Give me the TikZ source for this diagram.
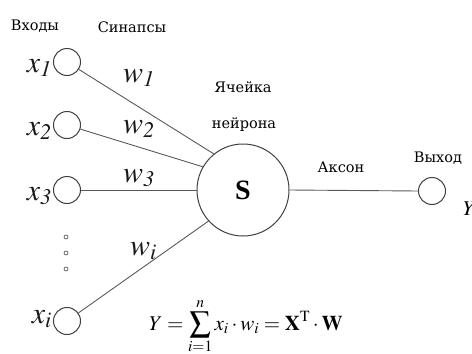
\documentclass[tikz,border=0pt]{standalone}
\usepackage{mathptmx}
\usepackage[no-math]{fontspec}
\setmainfont{DejaVu Serif}
\begin{document}
\begin{tikzpicture}[x=1pt,y=-1pt,
  neuron/.style={circle,draw=black!75,line width=1pt,minimum size=27pt,inner sep=0pt},
  soma/.style={circle,draw=black!75,line width=1pt,minimum size=92pt,inner sep=0pt,font=\fontsize{28}{30}\selectfont\bfseries},
  link/.style={draw=black!65,line width=0.9pt},
  lbl/.style={font=\fontsize{14.5}{17}\selectfont,inner sep=0pt,text=black},
  mlbl/.style={font=\fontsize{30}{32}\selectfont,inner sep=0pt,text=black!90},
  flbl/.style={font=\fontsize{21}{24}\selectfont,inner sep=0pt,text=black},
  dotc/.style={circle,draw=black!60,line width=0.8pt,minimum size=4pt,inner sep=0pt}]
\useasboundingbox (0,0) rectangle (472,354);
% input neurons
\node[neuron] (x1) at (67,62) {};
\node[neuron] (x2) at (67,125) {};
\node[neuron] (x3) at (67,190) {};
\node[neuron] (xi) at (67,321) {};
\node[dotc] (d1) at (66,237) {};
\node[dotc] (d2) at (66,253) {};
\node[dotc] (d3) at (66,269) {};
% soma and output
\node[soma] (S) at (243,190) {\fontspec{Liberation Serif}S};
\node[neuron] (out) at (432,191) {};
% connectors
\draw[link] (x1) -- (S.129);
\draw[link] (x2) -- (S.150);
\draw[link] (x3) -- (S.west);
\draw[link] (xi) -- (S.222);
\draw[link] (S.east) -- (out.west);
% input labels
\node[mlbl,anchor=base east] (lx1) at (52,72) {$x_{\mathit{1}}$};
\node[mlbl,anchor=base east] (lx2) at (52,135) {$x_{\mathit{2}}$};
\node[mlbl,anchor=base east] (lx3) at (52,200) {$x_{\mathit{3}}$};
\node[mlbl,anchor=base east] (lxi) at (52,323) {$x_{i}$};
% weight labels
\node[mlbl,anchor=base west] (lw1) at (123,82) {$w_{\mathit{1}}$};
\node[mlbl,anchor=base west] (lw2) at (123,133) {$w_{\mathit{2}}$};
\node[mlbl,anchor=base west] (lw3) at (123,182) {$w_{\mathit{3}}$};
\node[mlbl,anchor=base west] (lwi) at (130,255) {$w_{i}$};
% text labels
\node[lbl,anchor=base] (tin) at (35,30) {Входы};
\node[lbl,anchor=base] (tsyn) at (132,32) {Синапсы};
\node[lbl,anchor=base] (tcell1) at (243,92) {Ячейка};
\node[lbl,anchor=base] (tcell2) at (244,128) {нейрона};
\node[lbl,anchor=base] (tax) at (341,172) {Аксон};
\node[lbl,anchor=base] (tout) at (438,162) {Выход};
\node[flbl,anchor=base west] (ty) at (463,215) {$Y$};
% formula
\node[flbl,anchor=base west] (form) at (149,330) {$\displaystyle Y=\sum_{i=1}^{n} x_i\cdot w_i=\mathbf{X}^{\mathrm{T}}\cdot\mathbf{W}$};
\end{tikzpicture}
\end{document}
